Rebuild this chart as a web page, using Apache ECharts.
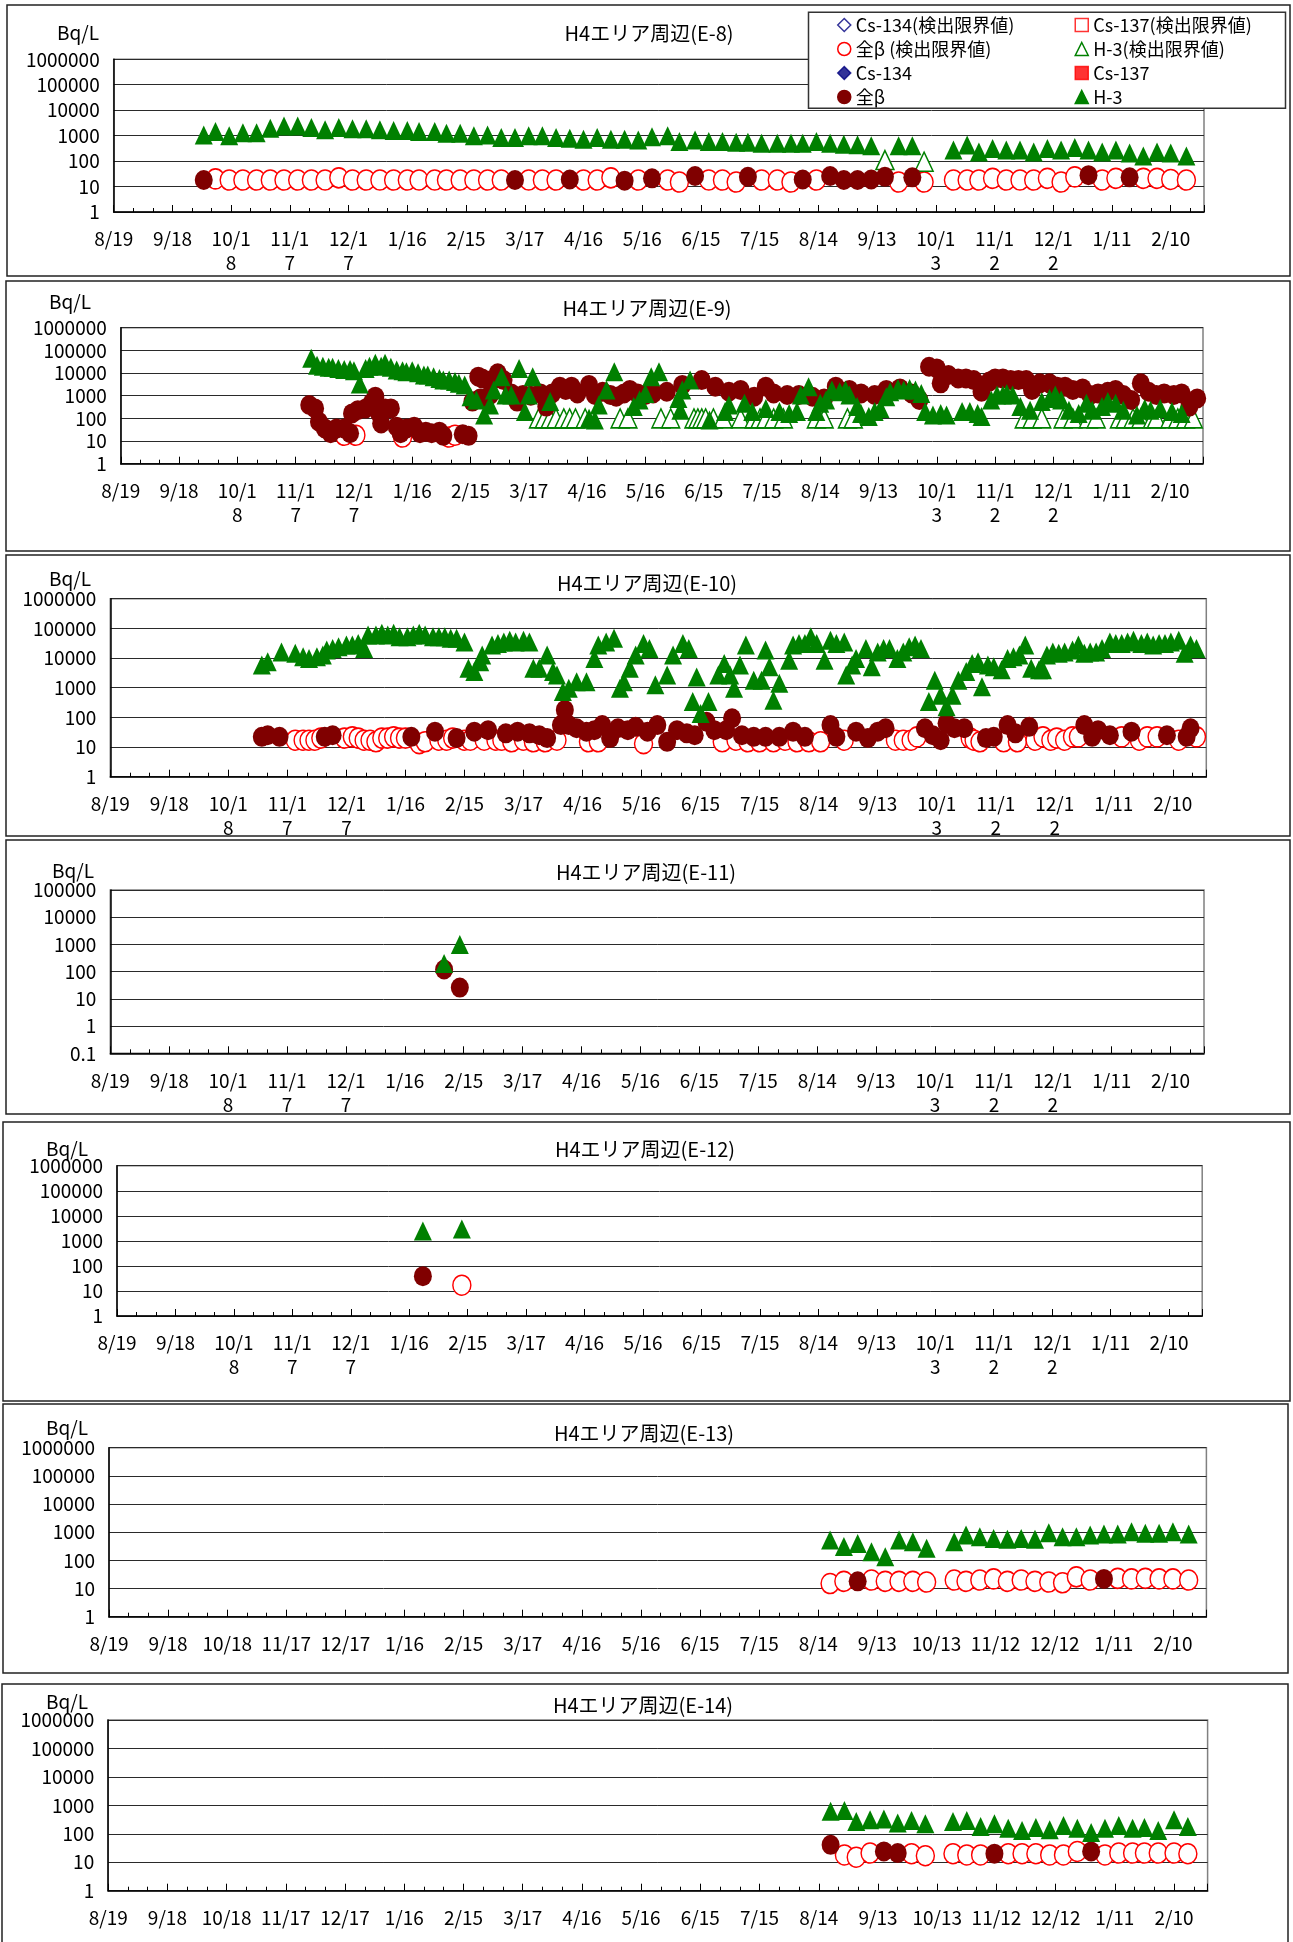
<!DOCTYPE html>
<html><head><meta charset="utf-8">
<script src="https://cdn.jsdelivr.net/npm/echarts@6.0.0/dist/echarts.min.js"></script>
<style>html,body{margin:0;padding:0;background:#fff}#c{width:1293px;height:1942px}</style>
</head><body><div id="c"></div>
<script>
// x tick labels: every 30 days starting 2013/8/19 (x values are days since 2013/8/19)
const dateLabels = ['8/19','9/18','10/18','11/17','12/17','1/16','2/15','3/17','4/16','5/16','6/15','7/15','8/14','9/13','10/13','11/12','12/12','1/11','2/10'];
const panelTitles = ['H4エリア周辺(E-8)','H4エリア周辺(E-9)','H4エリア周辺(E-10)','H4エリア周辺(E-11)','H4エリア周辺(E-12)','H4エリア周辺(E-13)','H4エリア周辺(E-14)'];
const unitLabel = 'Bq/L';
const seriesNames = ['Cs-134(検出限界値)','Cs-137(検出限界値)','全β (検出限界値)','H-3(検出限界値)','Cs-134','Cs-137','全β','H-3'];

// ---------- E-8 ----------
const e8_h3 = [[46,1070],[52,1450],[59,980],[66,1300],[73,1300],[80,1950],[87,2400],[94,2400],[101,2100],[108,1700],[115,2100],[122,1850],[129,1850],[136,1700],[143,1600],[150,1600],[156,1450],[164,1450],[170,1250],[177,1250],[184,980],[191,1070],[198,850],[205,850],[212,980],[219,980],[226,850],[233,790],[240,720],[247,850],[254,720],[261,720],[268,680],[275,900],[283,980],[289,590],[297,680],[304,590],[311,590],[318,550],[324,550],[331,500],[339,500],[346,500],[352,500],[359,590],[366,500],[373,460],[380,440],[387,400],[401,400],[408,400],[429,270],[436,430],[442,230],[449,315],[456,270],[463,270],[470,230],[477,315],[484,270],[491,340],[498,270],[505,230],[512,270],[519,210],[526,160],[533,230],[540,210],[548,160]];
const e8_h3_nd = [[394,110],[414,95]];
const e8_beta = [[46,18],[205,18],[233,19],[261,17],[275,21],[297,26],[324,24],[352,19],[366,26],[373,18],[380,18],[387,19],[394,24],[408,23],[498,28],[519,23]];
const e8_beta_nd = [[52,20],[59,18],[66,18],[73,18],[80,18],[87,18],[94,18],[101,18],[108,18],[115,22],[122,18],[129,18],[136,18],[143,18],[150,18],[156,18],[164,18],[170,18],[177,18],[184,18],[191,18],[198,18],[212,18],[219,18],[226,18],[240,18],[247,18],[254,22],[268,18],[283,18],[289,15],[304,18],[311,18],[318,15],[331,18],[339,18],[346,15],[359,18],[401,15],[414,15],[429,18],[436,18],[442,18],[449,21],[456,18],[463,18],[470,18],[477,21],[484,15],[491,24],[505,18],[512,21],[526,21],[533,21],[540,19],[548,18]];

// ---------- E-9 ----------
const e9_h3 = [[98,44700],[101,22000],[104,20000],[107,18000],[109,18000],[112,16000],[115,14500],[118,14500],[120,12700],[123,3300],[126,16000],[128,20000],[131,27000],[134,20000],[136,27000],[139,18000],[142,13600],[145,12700],[147,11500],[150,12700],[153,10300],[156,8200],[158,8200],[161,6900],[164,5800],[166,4900],[169,4900],[172,4200],[174,3500],[177,3000],[180,910],[183,650],[187,140],[190,390],[192,1800],[196,6900],[198,1070],[201,1070],[205,16000],[208,200],[210,1070],[212,6900],[221,550],[241,100],[244,85],[246,390],[250,1800],[254,11500],[264,330],[267,650],[270,1260],[273,6900],[277,11500],[287,760],[288,230],[289,1800],[293,4900],[303,85],[311,200],[313,390],[321,460],[325,200],[332,275],[339,200],[344,165],[348,200],[350,1070],[354,2500],[358,200],[360,460],[363,650],[366,1800],[370,1500],[373,1800],[375,1070],[379,330],[381,165],[385,120],[388,200],[391,275],[394,900],[396,1500],[400,2100],[403,1800],[406,2100],[409,1800],[412,1260],[414,200],[418,140],[422,165],[425,140],[433,200],[437,200],[441,165],[443,120],[448,650],[451,1070],[454,1070],[456,1260],[459,1070],[463,330],[468,230],[474,550],[478,760],[481,1070],[484,650],[488,230],[493,165],[497,460],[500,230],[505,330],[508,550],[512,460],[516,230],[523,140],[527,275],[530,230],[535,275],[541,200],[546,165]];
const e9_h3_nd = [[215,100],[218,100],[221,100],[224,100],[228,100],[231,100],[234,100],[239,100],[257,100],[261,100],[278,100],[283,100],[295,100],[297,100],[299,100],[301,100],[305,100],[310,100],[319,100],[326,100],[329,100],[332,100],[336,100],[341,100],[358,100],[362,100],[374,100],[377,100],[465,100],[469,100],[474,100],[485,100],[490,100],[498,100],[502,100],[514,100],[517,100],[521,100],[525,100],[531,100],[533,100],[540,100],[544,100],[548,100],[552,100]];
const e9_beta = [[97,390],[100,275],[102,71],[105,36],[108,22],[111,36],[115,36],[118,22],[119,165],[122,230],[126,275],[129,460],[131,910],[133,165],[134,60],[136,275],[139,275],[142,43],[144,22],[147,36],[151,43],[154,22],[157,26],[160,22],[164,26],[166,17],[176,20],[179,17],[181,550],[184,6900],[185,760],[186,5800],[190,1070],[191,4900],[194,9700],[197,4900],[201,1260],[204,550],[207,1070],[211,1000],[216,1260],[219,330],[222,1260],[226,2500],[229,1800],[232,2500],[235,1260],[241,3000],[244,1070],[248,1500],[252,1070],[255,900],[259,1260],[262,1800],[266,1260],[270,1070],[274,1260],[281,1500],[289,3000],[299,4900],[306,2500],[313,1500],[319,1800],[326,900],[332,2500],[336,1260],[343,1070],[349,1070],[356,900],[362,760],[368,2500],[375,1800],[381,1260],[388,1070],[394,1800],[401,2100],[407,1260],[411,650],[416,19000],[420,16000],[422,3500],[426,8200],[431,5800],[435,5800],[439,4900],[443,1500],[447,4200],[450,5800],[454,5800],[458,4900],[462,4900],[466,4900],[469,1800],[473,3500],[478,3500],[482,2500],[486,2500],[490,1800],[495,2100],[499,1070],[503,1260],[508,1500],[512,1800],[516,1070],[520,650],[525,3500],[529,1500],[533,1070],[537,1260],[542,1070],[546,1260],[550,330],[554,760]];
const e9_beta_nd = [[115,18],[121,18],[145,15],[169,15],[172,18]];

// ---------- E-10 ----------
const e10_h3 = [[77,5800],[80,7500],[87,16000],[94,14400],[98,11000],[101,9700],[105,11000],[108,12600],[110,18600],[113,21000],[116,24000],[120,27500],[123,27500],[126,31000],[129,21000],[131,60000],[135,60000],[138,68000],[141,60000],[144,68000],[147,52000],[151,52000],[154,60000],[157,68000],[160,60000],[164,52000],[167,52000],[170,52000],[173,46000],[176,46000],[180,35000],[182,4500],[185,3500],[188,7500],[189,12600],[194,27500],[197,31000],[200,35000],[203,40000],[206,35000],[210,40000],[213,35000],[215,4500],[218,4500],[222,12600],[225,3500],[227,2700],[230,740],[233,950],[237,1600],[242,1600],[246,9700],[248,27500],[252,35000],[256,46000],[259,950],[261,1600],[264,4500],[267,12600],[271,31000],[274,21000],[277,1250],[283,2700],[286,12600],[291,31000],[294,21000],[296,340],[298,2300],[300,136],[304,340],[309,2700],[312,6600],[315,2700],[317,950],[320,5800],[323,27500],[327,1800],[331,1800],[333,18600],[335,5100],[337,380],[340,1400],[345,8500],[347,27500],[350,31000],[353,31000],[356,52000],[359,31000],[363,8500],[366,40000],[369,31000],[373,35000],[374,2700],[377,5800],[379,9700],[384,21000],[387,5100],[390,16000],[393,21000],[396,21000],[400,9700],[403,16000],[406,24000],[409,27500],[412,21000],[416,340],[419,1800],[422,560],[425,230],[428,560],[431,1800],[435,3500],[438,6600],[441,7500],[443,1070],[446,5800],[449,5100],[453,4000],[456,9700],[459,11000],[462,12600],[465,27500],[468,4500],[472,4000],[474,4000],[476,12600],[479,16000],[482,14400],[485,16000],[489,18600],[492,27500],[495,14400],[498,16000],[501,16000],[504,21000],[508,35000],[511,31000],[514,31000],[517,35000],[520,40000],[524,31000],[527,35000],[530,27500],[533,31000],[536,31000],[539,35000],[543,40000],[546,14400],[549,27500],[552,21000]];
const e10_h3_nd = [];
const e10_beta = [[77,22],[80,25],[86,22],[109,22],[113,25],[153,22],[165,33],[176,20],[185,33],[192,37],[201,29],[207,33],[213,29],[218,25],[222,20],[229,55],[231,178],[233,55],[237,43],[242,33],[246,37],[250,55],[254,20],[258,43],[263,37],[267,48],[273,33],[278,55],[283,15],[288,37],[293,29],[297,25],[303,71],[307,37],[313,37],[316,93],[321,25],[327,22],[333,22],[340,22],[347,33],[353,22],[366,55],[369,22],[379,33],[385,20],[390,33],[394,43],[414,43],[418,25],[422,17],[425,63],[429,43],[434,43],[445,20],[449,22],[456,55],[460,29],[467,48],[495,55],[499,22],[502,37],[508,25],[519,33],[537,25],[547,22],[549,43]];
const e10_beta_nd = [[94,17],[98,17],[101,17],[104,17],[107,20],[119,20],[123,22],[126,20],[129,17],[132,17],[135,15],[138,20],[141,20],[144,22],[147,20],[150,20],[157,13],[160,15],[167,17],[171,17],[174,20],[180,17],[183,17],[190,17],[196,17],[199,17],[204,15],[210,17],[215,15],[221,15],[227,17],[243,15],[248,15],[271,13],[311,15],[318,17],[324,15],[330,15],[337,15],[343,17],[349,15],[355,15],[361,15],[373,17],[399,17],[403,17],[407,17],[410,22],[437,20],[439,17],[442,15],[454,15],[461,15],[470,17],[474,22],[478,17],[481,20],[485,17],[489,22],[492,22],[514,22],[523,17],[527,22],[532,22],[543,17],[552,22]];

// ---------- E-11 ----------
const e11_h3 = [[170,200],[178,1000]];
const e11_h3_nd = [];
const e11_beta = [[170,120],[178,26]];
const e11_beta_nd = [];

// ---------- E-12 ----------
const e12_h3 = [[157,2450],[177,2950]];
const e12_h3_nd = [];
const e12_beta = [[157,39]];
const e12_beta_nd = [[177,17]];

// ---------- E-13 ----------
const e13_h3 = [[366,530],[373,310],[380,400],[387,203],[394,135],[401,530],[408,460],[415,270],[429,460],[435,790],[442,690],[449,600],[456,560],[463,600],[470,560],[477,960],[484,690],[491,690],[498,790],[505,860],[512,860],[519,1040],[526,910],[533,910],[540,1040],[548,860]];
const e13_h3_nd = [];
const e13_beta = [[380,18],[505,22]];
const e13_beta_nd = [[366,15],[373,18],[387,20],[394,18],[401,18],[408,18],[415,17],[429,20],[435,18],[442,20],[449,22],[456,18],[463,20],[470,18],[477,17],[484,16],[491,26],[498,20],[512,23],[519,22],[526,23],[533,22],[540,22],[548,20]];

// ---------- E-14 ----------
const e14_h3 = [[366,615],[373,660],[379,270],[386,310],[393,330],[400,240],[407,295],[414,225],[428,270],[435,295],[442,180],[449,225],[456,158],[463,131],[470,167],[477,138],[484,196],[491,158],[498,111],[505,158],[512,196],[519,158],[525,167],[532,131],[540,310],[547,180]];
const e14_h3_nd = [];
const e14_beta = [[366,41],[393,24],[400,21],[449,20],[498,24]];
const e14_beta_nd = [[373,18],[379,15],[386,21],[407,20],[414,17],[428,20],[435,18],[442,18],[456,20],[463,20],[470,20],[477,18],[484,18],[491,24],[505,18],[512,21],[519,21],[525,21],[532,21],[540,21],[547,20]];

const panelData = [
  {h3:e8_h3,  h3nd:e8_h3_nd,  beta:e8_beta,  betand:e8_beta_nd},
  {h3:e9_h3,  h3nd:e9_h3_nd,  beta:e9_beta,  betand:e9_beta_nd},
  {h3:e10_h3, h3nd:e10_h3_nd, beta:e10_beta, betand:e10_beta_nd},
  {h3:e11_h3, h3nd:e11_h3_nd, beta:e11_beta, betand:e11_beta_nd},
  {h3:e12_h3, h3nd:e12_h3_nd, beta:e12_beta, betand:e12_beta_nd},
  {h3:e13_h3, h3nd:e13_h3_nd, beta:e13_beta, betand:e13_beta_nd},
  {h3:e14_h3, h3nd:e14_h3_nd, beta:e14_beta, betand:e14_beta_nd}
];

// ---------- layout (pixels) ----------
const X_MAX = 557;
const FONT = '"Noto Sans CJK JP", "Noto Sans", sans-serif';
const CIRCLE_SIZE = [18, 20], TRI_SIZE = [18, 19];
const layout = [
  {box:[7,5,1283,271],    grid:[113.7,59.3,1090.3,152.7], ymin:1,   ymax:1e6, title:[649,33],   unit:[78,33],   wrap:true},
  {box:[6,281,1284,270],  grid:[120.8,327.7,1082.2,136],  ymin:1,   ymax:1e6, title:[647,308],  unit:[70,302],  wrap:true},
  {box:[6,555,1284,281],  grid:[110.3,598.7,1096,178],    ymin:1,   ymax:1e6, title:[647,583],  unit:[70,579],  wrap:true},
  {box:[6,840,1284,274],  grid:[110.3,890,1093.7,163.3],  ymin:0.1, ymax:1e5, title:[646,872],  unit:[73,871],  wrap:true},
  {box:[3,1122,1287,279], grid:[117,1165.7,1085.2,150.3], ymin:1,   ymax:1e6, title:[645,1149], unit:[67,1149], wrap:true},
  {box:[3,1404,1285,269], grid:[109,1447.7,1097.4,169],   ymin:1,   ymax:1e6, title:[644,1433], unit:[67,1428], wrap:false},
  {box:[2,1684,1286,262], grid:[108.2,1720,1099.4,170.7], ymin:1,   ymax:1e6, title:[643,1705], unit:[67,1702], wrap:false}
];

const C_ND_BETA = '#ff0000', C_BETA = '#800000', C_H3 = '#008000', C_CS134 = '#000080', C_CS137 = '#ff0000';

function xLabel(v, wrap) {
  if (Math.abs(v % 30) > 1e-6) return '';
  const s = dateLabels[Math.round(v / 30)];
  if (!s) return '';
  return (wrap && s.length > 4) ? s.slice(0, 4) + '\n' + s.slice(4) : s;
}
function yLabel(v) {
  return v < 1 ? String(+v.toFixed(1)) : String(Math.round(v));
}

const grids = [], xAxes = [], yAxes = [], series = [], titles = [], graphics = [];
layout.forEach((p, i) => {
  graphics.push({type:'rect', silent:true, z:0,
    shape:{x:p.box[0], y:p.box[1], width:p.box[2], height:p.box[3]},
    style:{fill:'none', stroke:'#222', lineWidth:1.5}});
  grids.push({left:p.grid[0], top:p.grid[1], width:p.grid[2], height:p.grid[3],
    show:true, borderColor:'#808080', borderWidth:1.5, backgroundColor:'transparent',
    containLabel:false, outerBoundsMode:'none'});
  xAxes.push({type:'value', gridIndex:i, min:0, max:X_MAX, interval:10, position:'bottom',
    axisLine:{show:true, onZero:false, lineStyle:{color:'#000', width:1.5}},
    axisTick:{show:true, inside:true, length:4, lineStyle:{color:'#000', width:1}},
    splitLine:{show:false}, minorTick:{show:false},
    axisLabel:{show:true, margin:15, fontSize:19, color:'#000', fontFamily:FONT, lineHeight:24,
      showMinLabel:true, showMaxLabel:false, hideOverlap:false,
      formatter:(v) => xLabel(v, p.wrap)}});
  xAxes.push({type:'value', gridIndex:i, min:0, max:X_MAX, interval:30, position:'bottom',
    axisLine:{show:false, onZero:false}, axisLabel:{show:false}, splitLine:{show:false},
    axisTick:{show:true, inside:true, length:7, lineStyle:{color:'#000', width:1}}});
  yAxes.push({type:'log', gridIndex:i, logBase:10, min:p.ymin, max:p.ymax,
    axisLine:{show:true, onZero:false, lineStyle:{color:'#000', width:1.5}},
    axisTick:{show:false},
    splitLine:{show:true, lineStyle:{color:'#2a2a2a', width:1}},
    axisLabel:{margin:14, fontSize:19, color:'#000', fontFamily:FONT, formatter:yLabel}});
  titles.push({text:panelTitles[i], left:p.title[0], top:p.title[1], textAlign:'center', textVerticalAlign:'middle', padding:0,
    textStyle:{fontSize:20, fontWeight:'normal', color:'#000', fontFamily:FONT}});
  titles.push({text:unitLabel, left:p.unit[0], top:p.unit[1], textAlign:'center', textVerticalAlign:'middle', padding:0,
    textStyle:{fontSize:19, fontWeight:'normal', color:'#000', fontFamily:FONT}});

  const d = panelData[i];
  const base = {type:'scatter', xAxisIndex:2*i, yAxisIndex:i, animation:false, emphasis:{disabled:true}, silent:true};
  series.push(Object.assign({}, base, {name:seriesNames[2], data:d.betand, symbol:'circle', symbolSize:CIRCLE_SIZE, z:2,
    itemStyle:{color:'#ffffff', borderColor:C_ND_BETA, borderWidth:1.5, opacity:1}}));
  series.push(Object.assign({}, base, {name:seriesNames[3], data:d.h3nd, symbol:'triangle', symbolSize:TRI_SIZE, z:3,
    itemStyle:{color:'#ffffff', borderColor:C_H3, borderWidth:1.5, opacity:1}}));
  series.push(Object.assign({}, base, {name:seriesNames[6], data:d.beta, symbol:'circle', symbolSize:CIRCLE_SIZE, z:4,
    itemStyle:{color:C_BETA, borderWidth:0, opacity:1}}));
  series.push(Object.assign({}, base, {name:seriesNames[7], data:d.h3, symbol:'triangle', symbolSize:TRI_SIZE, z:5,
    itemStyle:{color:C_H3, borderWidth:0, opacity:1}}));
});
// empty Cs series (no detected values) so that they appear in legend
const csEmpty = [];
series.push({type:'scatter', name:seriesNames[0], xAxisIndex:0, yAxisIndex:0, data:csEmpty, symbol:'diamond', itemStyle:{color:'#fff', borderColor:C_CS134, borderWidth:1.5}});
series.push({type:'scatter', name:seriesNames[1], xAxisIndex:0, yAxisIndex:0, data:csEmpty, symbol:'rect', itemStyle:{color:'#fff', borderColor:C_CS137, borderWidth:1.5}});
series.push({type:'scatter', name:seriesNames[4], xAxisIndex:0, yAxisIndex:0, data:csEmpty, symbol:'diamond', itemStyle:{color:C_CS134}});
series.push({type:'scatter', name:seriesNames[5], xAxisIndex:0, yAxisIndex:0, data:csEmpty, symbol:'rect', itemStyle:{color:C_CS137}});

// legend box
graphics.push({type:'rect', silent:true, z:90,
  shape:{x:808.5, y:12.3, width:477, height:96},
  style:{fill:'#ffffff', stroke:'#333', lineWidth:1.5}});

const legendItem = (name, icon, fill, stroke) => ({name, icon,
  itemStyle:{color:fill, borderColor:stroke, borderWidth:1.5}});
const legendCommon = {orient:'vertical', top:16, itemWidth:13, itemHeight:13, itemGap:6, padding:0,
  selectedMode:false, z:100, textStyle:{fontSize:18, lineHeight:18, color:'#000', fontFamily:FONT}};
const legends = [
  Object.assign({}, legendCommon, {left:837, data:[
    legendItem(seriesNames[0], 'diamond', '#fff', C_CS134),
    legendItem(seriesNames[2], 'circle', '#fff', C_ND_BETA),
    legendItem(seriesNames[4], 'diamond', C_CS134, C_CS134),
    legendItem(seriesNames[6], 'circle', C_BETA, C_BETA)]}),
  Object.assign({}, legendCommon, {left:1074.5, data:[
    legendItem(seriesNames[1], 'rect', '#fff', C_CS137),
    legendItem(seriesNames[3], 'triangle', '#fff', C_H3),
    legendItem(seriesNames[5], 'rect', C_CS137, C_CS137),
    legendItem(seriesNames[7], 'triangle', C_H3, C_H3)]})
];

const chart = echarts.init(document.getElementById('c'), null, {renderer:'canvas', width:1293, height:1942});
chart.setOption({
  backgroundColor:'#ffffff',
  animation:false,
  textStyle:{fontFamily:FONT},
  title:titles, grid:grids, xAxis:xAxes, yAxis:yAxes, series:series, legend:legends,
  graphic:{elements:graphics}
});
</script></body></html>
